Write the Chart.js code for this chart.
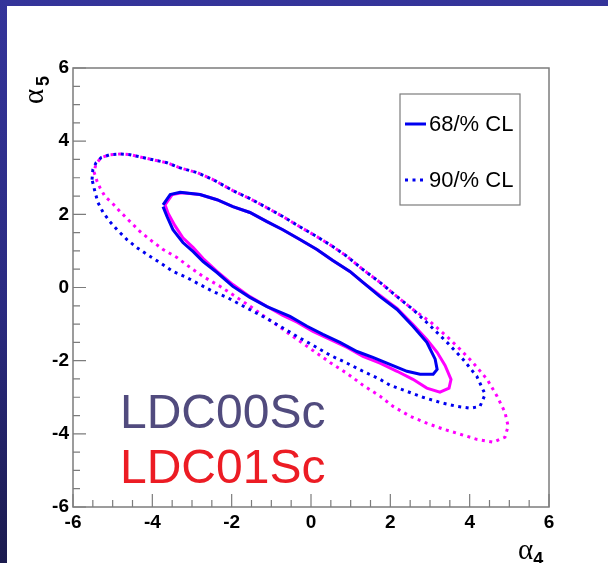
<!DOCTYPE html>
<html>
<head>
<meta charset="utf-8">
<script src="https://cdn.jsdelivr.net/npm/chart.js@4"></script>
<style>
  html, body { margin: 0; padding: 0; }
  body {
    width: 608px; height: 563px; overflow: hidden; position: relative;
    background: linear-gradient(to bottom, #34349a 0%, #2a2a80 55%, #1b1b4e 100%);
  }
  #panel { position: absolute; left: 7px; top: 6px; width: 601px; height: 557px; background: #fff; }
  canvas { display: block; }
</style>
</head>
<body>
<div id="panel"><canvas id="chart" width="601" height="557"></canvas></div>
<script>
'use strict';

// axis ranges and labels
var xRange = [-6, 6];
var yRange = [-6, 6];
var xTitle = ['α', '4'];
var yTitle = ['α', '5'];
var legendLabels = ['68/% CL', '90/% CL'];
var sampleNames = ['LDC00Sc', 'LDC01Sc'];

// 68% CL contour, LDC00Sc (blue solid)
var c68blueX = [-3.73, -3.55, -3.30, -2.80, -2.37, -1.97, -1.54, -1.11, -0.71, -0.28, 0.15, 0.55, 0.98, 1.31, 1.74, 2.17, 2.57, 2.92, 3.13, 3.18, 3.08, 2.75, 2.42, 1.99, 1.56, 1.16, 0.73, 0.30, -0.10, -0.53, -1.11, -1.54, -1.97, -2.37, -2.72, -2.97, -3.23, -3.48, -3.63, -3.73];
var c68blueY = [2.26, 2.54, 2.60, 2.54, 2.40, 2.21, 2.05, 1.80, 1.58, 1.31, 1.04, 0.74, 0.44, 0.14, -0.25, -0.60, -1.06, -1.50, -1.96, -2.24, -2.37, -2.37, -2.29, -2.10, -1.91, -1.75, -1.50, -1.28, -1.06, -0.79, -0.52, -0.27, 0.03, 0.41, 0.71, 0.98, 1.23, 1.58, 1.94, 2.21];

// 68% CL contour, LDC01Sc (magenta solid)
var c68magX = [-3.68, -3.50, -3.25, -2.80, -2.37, -1.97, -1.54, -1.11, -0.71, -0.28, 0.15, 0.55, 0.98, 1.31, 1.74, 2.17, 2.57, 2.92, 3.18, 3.38, 3.53, 3.48, 3.25, 2.92, 2.57, 2.17, 1.74, 1.31, 0.91, 0.48, 0.05, -0.35, -0.71, -1.11, -1.54, -1.97, -2.37, -2.72, -2.97, -3.23, -3.43, -3.60, -3.68];
var c68magY = [2.26, 2.54, 2.59, 2.54, 2.40, 2.21, 2.05, 1.80, 1.58, 1.31, 1.04, 0.74, 0.44, 0.14, -0.22, -0.57, -1.01, -1.42, -1.77, -2.13, -2.51, -2.75, -2.86, -2.75, -2.51, -2.29, -2.07, -1.88, -1.64, -1.42, -1.20, -0.95, -0.76, -0.52, -0.25, 0.08, 0.44, 0.79, 1.09, 1.36, 1.69, 2.02, 2.26];

// 90% CL contour, LDC00Sc (blue dotted)
var c90blueX = [-5.52, -5.50, -5.42, -5.29, -5.07, -4.81, -4.56, -4.31, -3.98, -3.63, -3.30, -2.87, -2.47, -1.97, -1.54, -1.11, -0.71, -0.28, 0.15, 0.55, 0.91, 1.31, 1.74, 2.17, 2.57, 3.00, 3.43, 3.83, 4.18, 4.39, 4.26, 4.01, 3.68, 3.25, 2.82, 2.42, 1.99, 1.74, 1.31, 0.91, 0.48, 0.05, -0.35, -0.78, -1.11, -1.46, -1.79, -2.12, -2.47, -2.80, -3.13, -3.48, -3.81, -4.13, -4.39, -4.64, -4.89, -5.07, -5.24, -5.37, -5.44, -5.52];
var c90blueY = [2.95, 3.22, 3.41, 3.55, 3.63, 3.65, 3.63, 3.57, 3.49, 3.41, 3.27, 3.14, 2.95, 2.65, 2.43, 2.18, 1.94, 1.66, 1.39, 1.12, 0.85, 0.49, 0.14, -0.25, -0.60, -1.04, -1.50, -1.96, -2.43, -2.92, -3.25, -3.30, -3.25, -3.14, -3.00, -2.84, -2.67, -2.51, -2.29, -2.07, -1.85, -1.58, -1.34, -1.06, -0.85, -0.65, -0.46, -0.27, -0.11, 0.08, 0.27, 0.44, 0.68, 0.90, 1.09, 1.31, 1.58, 1.80, 2.05, 2.32, 2.59, 2.95];

// 90% CL contour, LDC01Sc (magenta dotted)
var c90magX = [-5.47, -5.42, -5.29, -5.07, -4.81, -4.56, -4.31, -3.98, -3.63, -3.30, -2.87, -2.47, -1.97, -1.54, -1.11, -0.71, -0.28, 0.15, 0.55, 0.91, 1.31, 1.74, 2.17, 2.57, 3.00, 3.43, 3.76, 4.08, 4.44, 4.69, 4.89, 4.97, 4.89, 4.59, 4.18, 3.76, 3.33, 2.92, 2.50, 2.07, 1.74, 1.31, 0.91, 0.48, 0.05, -0.35, -0.78, -1.03, -1.46, -1.87, -2.29, -2.72, -3.05, -3.38, -3.73, -4.06, -4.31, -4.56, -4.81, -5.02, -5.19, -5.32, -5.39, -5.47];
var c90magY = [3.16, 3.38, 3.55, 3.63, 3.65, 3.63, 3.57, 3.49, 3.41, 3.27, 3.14, 2.95, 2.65, 2.43, 2.18, 1.94, 1.66, 1.39, 1.12, 0.85, 0.49, 0.14, -0.25, -0.60, -0.93, -1.34, -1.69, -2.05, -2.51, -2.97, -3.41, -3.79, -4.09, -4.23, -4.15, -4.01, -3.87, -3.71, -3.52, -3.25, -2.97, -2.67, -2.35, -2.05, -1.72, -1.42, -1.09, -0.90, -0.57, -0.27, 0.03, 0.30, 0.55, 0.82, 1.04, 1.31, 1.53, 1.80, 2.07, 2.32, 2.48, 2.73, 2.89, 3.16];

function toPoints(xs, ys) {
	var pts = [];
	for (var i = 0; i < xs.length; i++) {
		pts.push({ x: xs[i], y: ys[i] });
	}
	return pts;
}

var BLUE = '#0000f0';
var MAGENTA = '#ff00ff';
var DOTS = [3, 4.5];

function contour(label, pts, color, dash, dashOffset) {
	return {
		label: label,
		data: pts,
		showLine: true,
		borderColor: color,
		borderWidth: 3,
		borderDash: dash,
		borderDashOffset: dashOffset || 0,
		borderCapStyle: 'butt',
		pointRadius: 0,
		fill: false,
		tension: 0
	};
}

// first dataset is drawn on top
var datasets = [
	contour(legendLabels[0], toPoints(c68blueX, c68blueY), BLUE, []),
	contour(legendLabels[1], toPoints(c90blueX, c90blueY), BLUE, DOTS),
	contour(legendLabels[0], toPoints(c68magX, c68magY), MAGENTA, []),
	contour(legendLabels[1], toPoints(c90magX, c90magY), MAGENTA, DOTS, 3.75)
];

var tickFont = { family: '"Liberation Sans", Arial, sans-serif', size: 19, weight: 'bold' };

// frame, inner tick marks, axis titles, legend box and sample labels
var rootStyle = {
	id: 'rootStyle',
	afterDraw: function(chart) {
		var c = chart.ctx;
		var a = chart.chartArea;
		var xs = chart.scales.x;
		var ys = chart.scales.y;
		var v, len;
		c.save();
		c.strokeStyle = '#7c7c7c';
		c.lineWidth = 1.5;
		c.strokeRect(a.left, a.top, a.right - a.left, a.bottom - a.top);
		c.lineWidth = 1.2;
		c.beginPath();
		for (v = xRange[0]; v <= xRange[1] + 1e-9; v += 0.5) {
			len = (Math.abs(v % 2) < 1e-9) ? 13 : 7;
			var px = xs.getPixelForValue(v);
			c.moveTo(px, a.bottom);
			c.lineTo(px, a.bottom - len);
		}
		for (v = yRange[0]; v <= yRange[1] + 1e-9; v += 0.5) {
			len = (Math.abs(v % 2) < 1e-9) ? 13 : 7;
			var py = ys.getPixelForValue(v);
			c.moveTo(a.left, py);
			c.lineTo(a.left + len, py);
		}
		c.stroke();

		// axis titles
		c.fillStyle = '#000';
		c.textBaseline = 'alphabetic';
		c.textAlign = 'left';
		c.font = '29px "Liberation Serif", serif';
		var aw = c.measureText(xTitle[0]).width;
		c.fillText(xTitle[0], 511, 553);
		c.font = 'bold 18px "Liberation Sans", sans-serif';
		c.fillText(xTitle[1], 511 + aw, 559);

		c.translate(36, 98);
		c.rotate(-Math.PI / 2);
		c.font = '29px "Liberation Serif", serif';
		c.fillText(yTitle[0], 0, 0);
		c.font = 'bold 18px "Liberation Sans", sans-serif';
		c.fillText(yTitle[1], c.measureText(yTitle[0]).width + 7, 6);
		c.setTransform(1, 0, 0, 1, 0, 0);

		// legend
		var lx = 393, ly = 88, lw = 120, lh = 111;
		c.fillStyle = '#fff';
		c.fillRect(lx, ly, lw, lh);
		c.strokeStyle = '#7c7c7c';
		c.lineWidth = 1.2;
		c.strokeRect(lx, ly, lw, lh);
		var rows = [ly + 30, ly + 86];
		for (var i = 0; i < 2; i++) {
			var ds = chart.data.datasets[i];
			c.strokeStyle = ds.borderColor;
			c.lineWidth = 3;
			c.setLineDash(ds.borderDash);
			c.beginPath();
			c.moveTo(lx + 5, rows[i]);
			c.lineTo(lx + 26, rows[i]);
			c.stroke();
			c.setLineDash([]);
			c.fillStyle = '#000';
			c.font = '22px "Liberation Sans", Arial, sans-serif';
			c.textBaseline = 'middle';
			c.fillText(legendLabels[i], lx + 29, rows[i] + 1);
		}

		// sample labels
		c.textBaseline = 'alphabetic';
		c.font = '48px "Liberation Sans", Arial, sans-serif';
		c.fillStyle = '#514b7e';
		c.fillText(sampleNames[0], 113, 422);
		c.fillStyle = '#ec1c24';
		c.fillText(sampleNames[1], 113, 477);
		c.restore();
	}
};

var ctx = document.getElementById('chart');
var chart = new Chart(ctx, {
	type: 'scatter',
	data: { datasets: datasets },
	options: {
		responsive: false,
		animation: false,
		layout: { padding: { left: 0, right: 59, top: 62, bottom: 0 } },
		plugins: {
			legend: { display: false },
			tooltip: { enabled: false }
		},
		scales: {
			x: {
				type: 'linear',
				min: xRange[0],
				max: xRange[1],
				ticks: { stepSize: 2, font: tickFont, color: '#000', padding: 4, maxRotation: 0, autoSkip: false },
				grid: { display: false, drawTicks: false },
				border: { display: false },
				afterFit: function(scale) { scale.height = 56; }
			},
			y: {
				type: 'linear',
				min: yRange[0],
				max: yRange[1],
				ticks: { stepSize: 2, font: tickFont, color: '#000', padding: 4, autoSkip: false },
				grid: { display: false, drawTicks: false },
				border: { display: false },
				afterFit: function(scale) { scale.width = 66; }
			}
		}
	},
	plugins: [ rootStyle ]
});
</script>
</body>
</html>
